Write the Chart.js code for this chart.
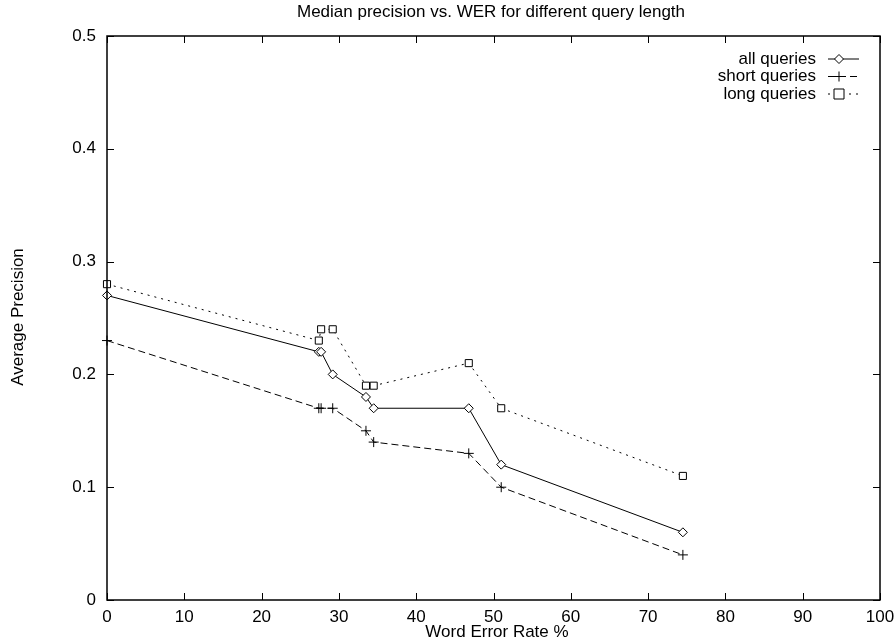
<!DOCTYPE html>
<html>
<head>
<meta charset="utf-8">
<script src="https://cdn.jsdelivr.net/npm/chart.js@4"></script>
<style>
  html,body{margin:0;padding:0;background:#fff;}
  #wrap{width:896px;height:640px;position:relative;}
</style>
</head>
<body>
<div id="wrap"><canvas id="chart"></canvas></div>
<script>
// ---- data ----
const werValues = [0, 27.4, 27.7, 29.2, 33.5, 34.5, 46.8, 51, 74.5];
const allQueries = [0.27, 0.22, 0.22, 0.20, 0.18, 0.17, 0.17, 0.12, 0.06];
const shortQueries = [0.23, 0.17, 0.17, 0.17, 0.15, 0.14, 0.13, 0.10, 0.04];
const longQueries = [0.28, 0.23, 0.24, 0.24, 0.19, 0.19, 0.21, 0.17, 0.11];
const seriesNames = ["all queries", "short queries", "long queries"];
const chartTitle = "Median precision vs. WER for different query length";
const xTitle = "Word Error Rate %";
const yTitle = "Average Precision";

const FONT = "'Liberation Sans', Arial, sans-serif";
const FS = 17;

function pts(ys){ return werValues.map((x,i)=>({x:x, y:ys[i]})); }

function drawMarker(ctx, style, cx, cy, r){
  ctx.fillStyle="#fff";
  ctx.beginPath();
  if(style==="rectRot"){
    ctx.moveTo(cx,cy-r); ctx.lineTo(cx+r,cy); ctx.lineTo(cx,cy+r); ctx.lineTo(cx-r,cy); ctx.closePath();
    ctx.fill(); ctx.stroke();
  } else if(style==="rect"){
    ctx.rect(cx-r,cy-r,2*r,2*r); ctx.fill(); ctx.stroke();
  } else {
    ctx.moveTo(cx-r,cy); ctx.lineTo(cx+r,cy); ctx.moveTo(cx,cy-r); ctx.lineTo(cx,cy+r); ctx.stroke();
  }
}

// gnuplot-ish frame: box, inward ticks on all sides, legend, titles
const framePlugin = {
  id:"frame",
  afterDatasetsDraw(chart){
    const {ctx, chartArea:a, scales:{x,y}} = chart;
    ctx.save();
    ctx.strokeStyle="#000"; ctx.lineWidth=1.5; ctx.setLineDash([]);
    ctx.strokeRect(a.left, a.top, a.right-a.left, a.bottom-a.top);
    ctx.lineWidth=1;
    const t=7;
    ctx.beginPath();
    x.ticks.forEach(tk=>{
      const px=Math.round(x.getPixelForValue(tk.value))+0.5;
      ctx.moveTo(px,a.bottom); ctx.lineTo(px,a.bottom-t);
      ctx.moveTo(px,a.top); ctx.lineTo(px,a.top+t);
    });
    y.ticks.forEach(tk=>{
      const py=Math.round(y.getPixelForValue(tk.value))+0.5;
      ctx.moveTo(a.left,py); ctx.lineTo(a.left+t,py);
      ctx.moveTo(a.right,py); ctx.lineTo(a.right-t,py);
    });
    ctx.stroke();

    // legend (top right, inside)
    ctx.font=FS+"px "+FONT;
    ctx.textAlign="right"; ctx.textBaseline="middle";
    chart.data.datasets.forEach((ds,i)=>{
      const ly=a.top+23+i*17.5;
      ctx.fillStyle="#000";
      ctx.fillText(ds.label, a.right-64, ly);
      ctx.setLineDash(ds.borderDash||[]);
      ctx.lineWidth=1;
      ctx.beginPath(); ctx.moveTo(a.right-52,ly); ctx.lineTo(a.right-21,ly); ctx.stroke();
      ctx.setLineDash([]);
      drawMarker(ctx, ds.pointStyle, a.right-41, ly, ds.pointRadius);
    });

    // titles
    ctx.fillStyle="#000";
    ctx.textAlign="center"; ctx.textBaseline="middle";
    ctx.font=FS+"px "+FONT;
    ctx.fillText(chartTitle, 491, 12);
    ctx.fillText(xTitle, 497, 632);
    ctx.translate(18, 317); ctx.rotate(-Math.PI/2);
    ctx.fillText(yTitle, 0, 0);
    ctx.restore();
  }
};

const baseDs = {borderColor:"#000", borderWidth:1, pointBackgroundColor:"#fff",
  pointBorderColor:"#000", pointBorderWidth:1, fill:false, tension:0, showLine:true, clip:false};

new Chart(document.getElementById("chart"), {
  type:"scatter",
  data:{ datasets:[
    Object.assign({}, baseDs, {label:seriesNames[0], data:pts(allQueries), pointStyle:"rectRot", pointRadius:4.5, borderDash:[]}),
    Object.assign({}, baseDs, {label:seriesNames[1], data:pts(shortQueries), pointStyle:"cross", pointRadius:5, borderDash:[7,4]}),
    Object.assign({}, baseDs, {label:seriesNames[2], data:pts(longQueries), pointStyle:"rect", pointRadius:5, borderDash:[2,5]})
  ]},
  options:{
    responsive:true, maintainAspectRatio:false, animation:false,
    layout:{ padding:{left:0, right:16, top:36, bottom:0} },
    plugins:{ legend:{display:false}, title:{display:false}, tooltip:{enabled:false} },
    scales:{
      x:{ type:"linear", min:0, max:100,
        ticks:{stepSize:10, color:"#000", font:{family:FONT, size:FS}, padding:7, maxRotation:0},
        grid:{display:false, drawTicks:false, tickLength:0}, border:{display:false},
        afterFit(s){ s.height=40; s.paddingLeft=0; s.paddingRight=0; } },
      y:{ type:"linear", min:0, max:0.5,
        ticks:{stepSize:0.1, color:"#000", font:{family:FONT, size:FS}, padding:11,
          callback:v=>Number(v.toFixed(1)).toString()},
        grid:{display:false, drawTicks:false, tickLength:0}, border:{display:false},
        afterFit(s){ s.width=107; s.paddingTop=0; s.paddingBottom=0; } }
    }
  },
  plugins:[framePlugin]
});
</script>
</body>
</html>
